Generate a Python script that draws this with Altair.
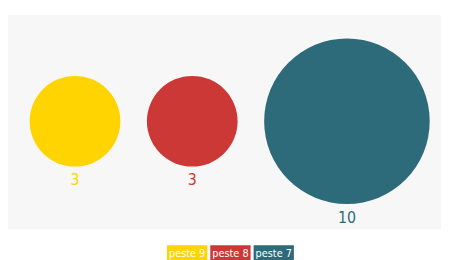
import math
import altair as alt
import pandas as pd

labels = ["peste 9", "peste 8", "peste 7"]
values = [3, 3, 10]
colors = ["#ffd400", "#cc3836", "#2d6a7a"]

# layout derived from values (area proportional to value)
unit_r = 26.6
gap = 27
left = 22
radii = [unit_r * math.sqrt(v) for v in values]
centers = []
pos = left
for r in radii:
    centers.append(pos + r)
    pos += 2 * r + gap
cy = 108
df = pd.DataFrame({
    "label": labels,
    "value": values,
    "cx": centers,
    "cy": [cy] * 3,
    "ly": [cy + r + 14 for r in radii],
})
max_size = (2 * unit_r * math.sqrt(10)) ** 2
FONT = "DejaVu Sans Condensed"

color = alt.Color("label:N", scale=alt.Scale(domain=labels, range=colors), legend=None)

circles = alt.Chart(df).mark_circle(opacity=1).encode(
    x=alt.X("cx:Q", scale=None, axis=None),
    y=alt.Y("cy:Q", scale=None, axis=None),
    size=alt.Size("value:Q", scale=alt.Scale(domain=[0, 10], range=[0, max_size], zero=True), legend=None),
    color=color,
)
texts = alt.Chart(df).mark_text(font=FONT, fontSize=16, baseline="middle").encode(
    x=alt.X("cx:Q", scale=None, axis=None),
    y=alt.Y("ly:Q", scale=None, axis=None),
    text="value:Q",
    color=color,
)
top = alt.layer(circles, texts).properties(width=440, height=218)

leg_x = alt.X("label:N", sort=labels,
              scale=alt.Scale(paddingInner=0.07, paddingOuter=0.137, align=1), axis=None)
leg_rect = alt.Chart(df).mark_bar().encode(x=leg_x, color=color)
leg_text = alt.Chart(df).mark_text(color="white", fontSize=11, font=FONT, baseline="middle").encode(
    x=leg_x, text="label:N"
)
legend = alt.layer(leg_rect, leg_text).properties(width=141, height=17, view=alt.ViewConfig(fill=None, stroke=None))

chart = alt.vconcat(top, legend, spacing=16, center=True).properties(
    padding={"top": 5, "left": 0, "right": 0, "bottom": 0}
).configure_view(stroke=None, fill="#f7f7f7").configure_axis(grid=False)

chart.save("out.html", embed_options={"renderer": "svg", "actions": False})
